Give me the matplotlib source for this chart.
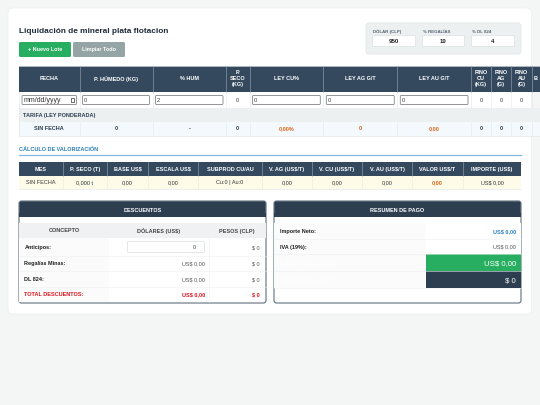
import matplotlib
matplotlib.use('Agg')
import matplotlib.pyplot as plt
from matplotlib.patches import Rectangle, FancyBboxPatch

plt.rcParams['font.family'] = ['Liberation Sans', 'DejaVu Sans']

DARK = '#34495e'
NAVY = '#2c3e50'
GREEN = '#27ae60'
ORANGE = '#d9651a'
RED = '#e3131f'
BLUE = '#2980b9'
LINE = '#e3e7e9'

title = 'Liquidación de mineral plata flotacion'
buttons = ['+ Nuevo Lote', 'Limpiar Todo']
param_labels = ['DÓLAR (CLP)', '% REGALÍAS', '% DL 824']
param_values = ['950', '10', '4']

lot_headers = ['FECHA', 'P. HÚMEDO (KG)', '% HUM', 'P.\nSECO\n(KG)', 'LEY CU%', 'LEY AG G/T',
               'LEY AU G/T', 'FINO\nCU\n(KG)', 'FINO\nAG\n(G)', 'FINO\nAU\n(G)', 'B']
lot_inputs = ['mm/dd/yyyy', '0', '2', '0', '0', '0', '0', '0', '0', '0', '']
lot_total = ['SIN FECHA', '0', '-', '0', '0,00%', '0', '0,00', '0', '0', '0', '']
tarifa_label = 'TARIFA (LEY PONDERADA)'

section_label = 'CÁLCULO DE VALORIZACIÓN'
val_headers = ['MES', 'P. SECO (T)', 'BASE US$', 'ESCALA US$', 'SUBPROD CU/AU', 'V. AG (US$/T)',
               'V. CU (US$/T)', 'V. AU (US$/T)', 'VALOR US$/T', 'IMPORTE (US$)']
val_row = ['SIN FECHA', '0,000 t', '0,00', '0,00', 'Cu:0 | Au:0', '0,00', '0,00', '0,00', '0,00', 'US$ 0,00']

desc_title = 'DESCUENTOS'
desc_headers = ['CONCEPTO', 'DÓLARES (US$)', 'PESOS (CLP)']
desc_concepts = ['Anticipos:', 'Regalías Minas:', 'DL 824:', 'TOTAL DESCUENTOS:']
desc_usd = ['0', 'US$ 0,00', 'US$ 0,00', 'US$ 0,00']
desc_clp = ['$ 0', '$ 0', '$ 0', '$ 0']

pay_title = 'RESUMEN DE PAGO'
pay_labels = ['Importe Neto:', 'IVA (19%):', 'LÍQUIDO (US$):', 'LÍQUIDO (CLP):']
pay_values = ['US$ 0,00', 'US$ 0,00', 'US$ 0,00', '$ 0']

lot_x = [19, 79.5, 152.5, 226, 249.5, 323.3, 397.3, 471, 491.3, 511.3, 531.6, 560]
val_x = [19, 62.5, 107, 148, 198, 262, 312, 362, 412, 463, 521]

fig = plt.figure(figsize=(5.4, 4.05), dpi=100, facecolor='#f4f6f6')
ax = fig.add_axes([0, 0, 1, 1])
ax.set_xlim(0, 540)
ax.set_ylim(405, 0)
ax.axis('off')


def rect(x0, y0, x1, y1, fc, ec='none', lw=0.6, z=2):
    ax.add_patch(Rectangle((x0, y0), x1 - x0, y1 - y0, fc=fc, ec=ec, lw=lw, zorder=z))


def rrect(x0, y0, x1, y1, fc, ec='none', lw=0.6, r=2, z=2):
    ax.add_patch(FancyBboxPatch((x0 + r, y0 + r), x1 - x0 - 2 * r, y1 - y0 - 2 * r,
                                boxstyle=f'round,pad={r},rounding_size={r}',
                                fc=fc, ec=ec, lw=lw, zorder=z))


def txt(x, y, s, size=4.0, color='#222222', weight='normal', ha='center'):
    # baseline anchor so accents and commas do not push the text off centre
    if '\n' in s:
        va = 'center'
    else:
        va = 'baseline'
        y = y + 0.36 * size * 100 / 72
    ax.text(x, y, s, fontsize=size, color=color, fontweight=weight, ha=ha, va=va,
            linespacing=1.15, zorder=5)


# card
rrect(8, 8, 531.5, 314, '#ffffff', ec='#eef0f1', r=5, z=1)

# title and buttons
txt(19, 30.5, title, size=5.95, color='#1f2d3a', weight='bold', ha='left')
btn_x = [(19, 71), (73, 125)]
btn_c = [GREEN, '#95a5a6']
for (x0, x1), c, s in zip(btn_x, btn_c, buttons):
    rrect(x0, 42, x1, 57, c, r=1.5)
    txt((x0 + x1) / 2, 49.5, s, size=3.9, color='#ffffff', weight='bold')

# parameter box
rrect(366, 23, 521, 54, '#ecf0f1', ec='#e3e7e8', r=3)
param_x = [(372.5, 415.5), (422.5, 464.5), (471.5, 514.5)]
for (x0, x1), lab, v in zip(param_x, param_labels, param_values):
    txt(x0 + 0.5, 31.5, lab, size=3.2, color='#55636f', weight='bold', ha='left')
    rrect(x0, 35.5, x1, 46.5, '#ffffff', ec='#dfe4e6', r=1)
    txt((x0 + x1) / 2, 41, v, size=4.4, color='#222222', weight='bold')

# lot table
rect(19, 65.5, 540, 91.5, DARK)
ax.plot([19, 540], [65.5, 65.5], color='#c5ced2', lw=0.6, zorder=3)
for i, h in enumerate(lot_headers):
    x0, x1 = lot_x[i], lot_x[i + 1]
    xc = (x0 + x1) / 2
    if i == 10:
        xc = 533.5
        txt(xc, 78.5, h, size=4.0, color='#ffffff', weight='bold', ha='left')
    else:
        txt(xc, 78.5, h, size=4.0, color='#ffffff', weight='bold')
    if i > 0:
        ax.plot([x0, x0], [65.5, 91.5], color='#8797a5', lw=0.5, zorder=3)
        ax.plot([x0, x0], [91.5, 108], color=LINE, lw=0.4, zorder=3)
        ax.plot([x0, x0], [121.5, 135.5], color=LINE, lw=0.4, zorder=3)
    if i in (0, 1, 2, 4, 5, 6):
        bx0, bx1 = x0 + 3, x1 - 3
        rrect(bx0, 95.5, bx1, 104.5, '#ffffff', ec='#7f8688', lw=0.6, r=1, z=3)
        if i == 0:
            txt(bx0 + 1.5, 100, lot_inputs[i], size=5.0, color='#333333', ha='left')
            ax.add_patch(Rectangle((bx1 - 6, 98), 3.5, 3.5, fc='none', ec='#333333', lw=0.5, zorder=5))
        else:
            txt(bx0 + 1.5, 100, lot_inputs[i], size=4.2, color='#444444', ha='left')
    elif lot_inputs[i]:
        txt(xc, 100, lot_inputs[i], size=4.0, color='#333333')
rect(19, 108, 540, 121.5, '#ecf0f1')
txt(23, 115, tarifa_label, size=4.0, color='#2c3e50', weight='bold', ha='left')
rect(19, 121.5, 540, 135.5, '#f4f9fd')
ax.plot([19, 540], [135.5, 135.5], color=LINE, lw=0.5, zorder=3)
for i, s in enumerate(lot_total):
    if not s:
        continue
    c = ORANGE if i in (4, 5, 6) else '#2c3e50'
    txt((lot_x[i] + lot_x[i + 1]) / 2, 128.5, s, size=4.0, color=c, weight='bold')
ax.plot([19, 19], [91.5, 135.5], color=LINE, lw=0.5, zorder=3)

# valuation table
txt(19, 149, section_label, size=4.0, color=BLUE, weight='bold', ha='left')
ax.plot([19, 521], [155, 155], color='#85b9e0', lw=0.9, zorder=3)
rect(19, 162, 521, 175.5, DARK)
rect(19, 175.5, 521, 188.5, '#fefce8')
ax.plot([19, 521], [188.5, 188.5], color=LINE, lw=0.5, zorder=3)
for i, h in enumerate(val_headers):
    x0, x1 = val_x[i], val_x[i + 1]
    xc = (x0 + x1) / 2
    txt(xc, 168.8, h, size=4.0, color='#ffffff', weight='bold')
    c = ORANGE if i == 8 else '#333333'
    txt(xc, 182, val_row[i], size=4.0, color=c, weight='bold' if i == 8 else 'normal')
    if i > 0:
        ax.plot([x0, x0], [162, 175.5], color='#8797a5', lw=0.5, zorder=3)
        ax.plot([x0, x0], [175.5, 188.5], color='#ecebd8', lw=0.4, zorder=3)

# discounts panel
rrect(19, 201, 266, 303, '#ffffff', ec='#5f6f7d', lw=0.8, r=2.5)
rrect(19.3, 201.3, 265.7, 217, NAVY, r=2)
rect(19.3, 213, 265.7, 217, NAVY)
txt(142.5, 210, desc_title, size=4.0, color='#ffffff', weight='bold')
desc_col = [19.4, 109, 209, 265.6]
rect(19.4, 223, 265.6, 238, '#f0f1f2', z=3)
for i, h in enumerate(desc_headers):
    txt((desc_col[i] + desc_col[i + 1]) / 2, 230.5, h, size=4.0, color='#444444', weight='bold')
desc_y = [238, 256, 271, 287, 302]
for i in range(4):
    y0, y1 = desc_y[i], desc_y[i + 1]
    ym = (y0 + y1) / 2
    rect(19.4, y0, 109, y1, '#fbfbfb', z=3)
    c = RED if i == 3 else '#222222'
    txt(24.5, ym, desc_concepts[i], size=4.0, color=c, weight='bold', ha='left')
    if i == 0:
        rrect(127.5, 241.5, 204.5, 252.5, '#ffffff', ec='#dfe4e6', r=1, z=4)
        txt(196, 247, desc_usd[i], size=4.0, color='#444444', ha='right')
    else:
        txt(205, ym, desc_usd[i], size=4.0, color=RED if i == 3 else '#555555',
            weight='bold' if i == 3 else 'normal', ha='right')
    txt(260, ym, desc_clp[i], size=4.0, color=RED if i == 3 else '#555555',
        weight='bold' if i == 3 else 'normal', ha='right')
    if i < 3:
        ax.plot([19.4, 265.6], [y1, y1], color='#eef0f1', lw=0.4, zorder=4)
ax.plot([209, 209], [223, 302], color='#eef0f1', lw=0.4, zorder=4)

# payment panel
rrect(274, 201, 521, 303, '#ffffff', ec='#5f6f7d', lw=0.8, r=2.5)
rrect(274.3, 201.3, 520.7, 217, NAVY, r=2)
rect(274.3, 213, 520.7, 217, NAVY)
txt(397.5, 210, pay_title, size=4.0, color='#ffffff', weight='bold')
pay_y = [223, 239, 254, 271, 288]
pay_fill = ['#ffffff', '#ffffff', GREEN, NAVY]
pay_color = [BLUE, '#555555', '#ffffff', '#ffffff']
pay_size = [4.0, 4.0, 5.6, 5.6]
for i in range(4):
    y0, y1 = pay_y[i], pay_y[i + 1]
    ym = (y0 + y1) / 2
    rect(274.4, y0, 425.7, y1, '#fbfbfb', z=3)
    rect(425.7, y0, 520.6, y1, pay_fill[i], z=3)
    lab_c = '#222222' if i < 2 else '#ffffff'
    txt(279.5, ym, pay_labels[i], size=4.0 if i < 2 else 5.6, color=lab_c,
        weight='bold' if i < 2 else 'normal', ha='left')
    txt(516, ym, pay_values[i], size=pay_size[i], color=pay_color[i],
        weight='bold' if i == 0 else 'normal', ha='right')
    ax.plot([274.4, 520.6], [y1, y1], color='#eef0f1', lw=0.4, zorder=4)

fig.savefig('out.png', dpi=100, facecolor=fig.get_facecolor())
plt.close(fig)
